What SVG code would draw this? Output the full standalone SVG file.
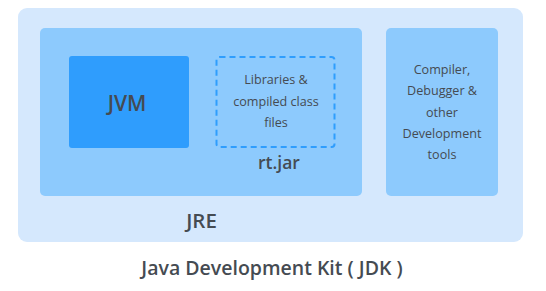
<svg xmlns="http://www.w3.org/2000/svg" width="546" height="291" viewBox="0 0 546 291">
<style>
text{font-family:"Open Sans","Noto Sans",sans-serif;fill:#454b52;text-anchor:middle}
.b{font-weight:600}
.s{font-size:12.6px}
</style>
<rect width="546" height="291" fill="#ffffff"/>
<g id="jdk">
<rect x="18" y="8" width="505" height="234" rx="9" fill="#d5e8fd"/>
<text class="b" x="272" y="275" font-size="19.5">Java Development Kit ( JDK )</text>
</g>
<g id="jre">
<rect x="40" y="28" width="322" height="168" rx="5" fill="#8dcafd"/>
<text class="b" x="201.5" y="228" font-size="20.5">JRE</text>
</g>
<g id="jvm">
<rect x="69" y="56" width="120" height="92" rx="3" fill="#2f9dfd"/>
<text class="b" x="127" y="111" font-size="21">JVM</text>
</g>
<g id="rtjar">
<rect x="216.5" y="57" width="118" height="90" rx="3" fill="none" stroke="#2f9dfd" stroke-width="2" stroke-dasharray="6,4"/>
<text class="s" x="276" y="84">Libraries &amp;</text>
<text class="s" x="276" y="106">compiled class</text>
<text class="s" x="276" y="127">files</text>
<text class="b" x="279" y="169" font-size="17.5">rt.jar</text>
</g>
<g id="tools">
<rect x="386" y="28" width="112" height="168" rx="5" fill="#8dcafd"/>
<text class="s" x="442" y="74">Compiler,</text>
<text class="s" x="442" y="95">Debugger &amp;</text>
<text class="s" x="442" y="117">other</text>
<text class="s" x="442" y="138">Development</text>
<text class="s" x="442" y="159">tools</text>
</g>
<g id="connectors"></g>
</svg>
